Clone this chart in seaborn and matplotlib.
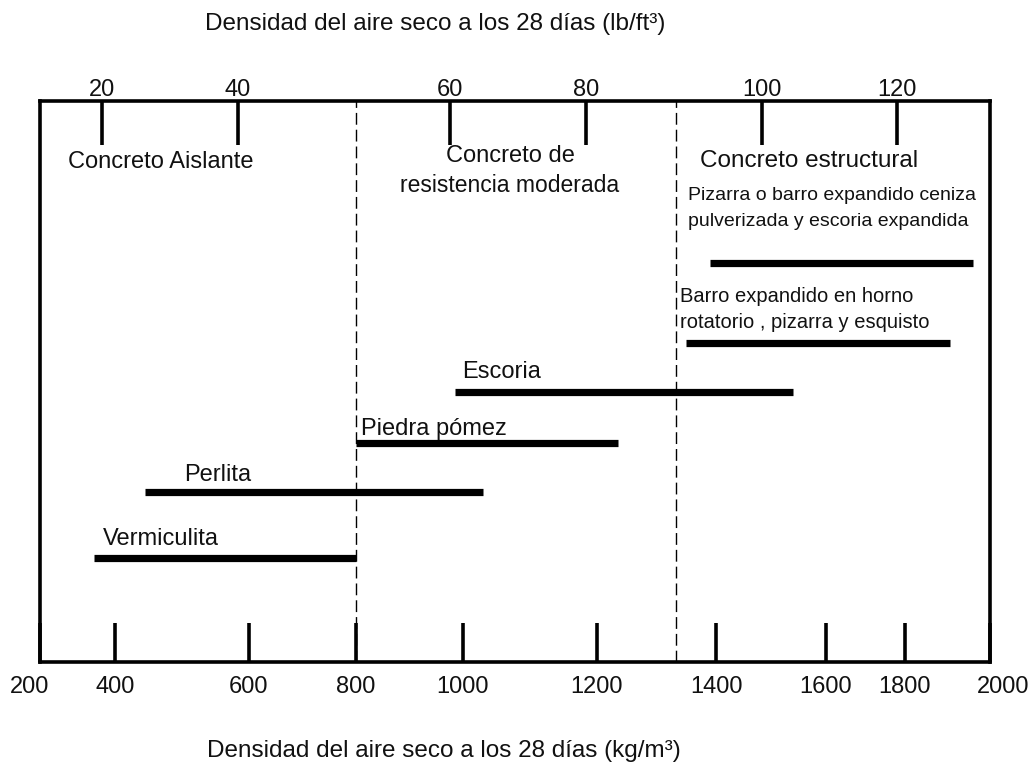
import numpy as np
import pandas as pd
import matplotlib
matplotlib.use("Agg")
import matplotlib.pyplot as plt
import matplotlib.transforms as mtransforms
import seaborn as sns

# ---------------- data ----------------
materials = [
    "Pizarra o barro expandido ceniza pulverizada y escoria expandida",
    "Barro expandido en horno rotatorio, pizarra y esquisto",
    "Escoria",
    "Piedra pómez",
    "Perlita",
    "Vermiculita",
]
density_min_kg = [1390, 1350, 985, 800, 445, 345]
density_max_kg = [1960, 1905, 1540, 1235, 1030, 800]
class_bounds_kg = [800, 1333]
kg_ticks = [200, 400, 600, 800, 1000, 1200, 1400, 1600, 1800, 2000]
lb_ticks = [20, 40, 60, 80, 100, 120]
top_title = "Densidad del aire seco a los 28 días (lb/ft³)"
bottom_title = "Densidad del aire seco a los 28 días (kg/m³)"

# ---------------- layout (pixels of the 1032x767 canvas) ----------------
W, H = 1032, 767
BOX_L, BOX_R, BOX_T, BOX_B = 40, 990, 101, 662
kg_tick_px = [40, 115, 249, 356, 463, 597, 716, 826, 905, 990]
lb_tick_px = [102, 238, 450, 586, 762, 897]
row_px = [263, 343, 392, 443, 492, 558]
row_levels = [(BOX_B - p) / (BOX_B - BOX_T) for p in row_px]

FONT = ["Liberation Sans", "DejaVu Sans"]
TXT = "#111111"

sns.set_theme(style="white")
plt.rcParams["font.family"] = FONT
plt.rcParams["lines.scale_dashes"] = False


def piecewise(x, xp, fp):
    x = np.asarray(x, dtype=float)
    xp = np.asarray(xp, dtype=float)
    fp = np.asarray(fp, dtype=float)
    y = np.interp(x, xp, fp)
    s0 = (fp[1] - fp[0]) / (xp[1] - xp[0])
    s1 = (fp[-1] - fp[-2]) / (xp[-1] - xp[-2])
    y = np.where(x < xp[0], fp[0] + (x - xp[0]) * s0, y)
    y = np.where(x > xp[-1], fp[-1] + (x - xp[-1]) * s1, y)
    return y


def make_scale(vals, px):
    pos = [(p - BOX_L) / (BOX_R - BOX_L) for p in px]
    fwd = lambda x: piecewise(x, vals, pos)
    inv = lambda p: piecewise(p, pos, vals)
    return fwd, inv


kg_fwd, kg_inv = make_scale(kg_ticks, kg_tick_px)
lb_fwd, lb_inv = make_scale(lb_ticks, lb_tick_px)

# ---------------- figure ----------------
fig = plt.figure(figsize=(W / 100, H / 100), dpi=100)
fig.patch.set_facecolor("white")
ax = fig.add_axes([BOX_L / W, 1 - BOX_B / H, (BOX_R - BOX_L) / W, (BOX_B - BOX_T) / H])
ax.set_facecolor("white")

rows = []
for m, a, b, lv in zip(materials, density_min_kg, density_max_kg, row_levels):
    rows.append({"material": m, "density": a, "level": lv})
    rows.append({"material": m, "density": b, "level": lv})
df = pd.DataFrame(rows)

sns.lineplot(data=df, x="density", y="level", units="material", estimator=None,
             sort=False, color="black", linewidth=5.2, legend=False, ax=ax,
             solid_capstyle="butt")

ax.set_xscale("function", functions=(kg_fwd, kg_inv))
ax.set_xlim(kg_ticks[0], kg_ticks[-1])
ax.set_ylim(0, 1)
ax.set_xlabel("")
ax.set_ylabel("")
ax.set_yticks([])

for b in class_bounds_kg:
    ax.axvline(b, color="black", linewidth=1.0, linestyle=(0, (8.5, 3.6)), zorder=1)

for sp in ax.spines.values():
    sp.set_visible(True)
    sp.set_color("black")
    sp.set_linewidth(2.6)

ax.set_xticks(kg_ticks, labels=[str(t) for t in kg_ticks])
ax.tick_params(axis="x", which="major", direction="in", length=28, width=2.6,
               color="black", labelsize=17, labelcolor=TXT, pad=10,
               bottom=True, top=False)
ax.minorticks_off()

# shift the edge labels like in the reference
ticks = ax.xaxis.get_major_ticks()
for tk, dx in ((ticks[0], -10), (ticks[-1], 13)):
    off = mtransforms.ScaledTranslation(dx / 100, 0, fig.dpi_scale_trans)
    tk.label1.set_transform(tk.label1.get_transform() + off)

# top axis in lb/ft3
ax2 = ax.twiny()
ax2.set_xscale("function", functions=(lb_fwd, lb_inv))
ax2.set_xlim(float(lb_inv(0.0)), float(lb_inv(1.0)))
ax2.set_xticks(lb_ticks, labels=[str(t) for t in lb_ticks])
ax2.tick_params(axis="x", which="major", direction="in", length=31.5, width=2.6,
                color="black", labelsize=17, labelcolor=TXT, pad=0,
                top=True, bottom=False)
ax2.minorticks_off()
for sp in ax2.spines.values():
    sp.set_visible(False)
ax2.grid(False)
ax.grid(False)


def ftext(s, px, py, size, ha="left", va="baseline"):
    fig.text(px / W, 1 - py / H, s, fontsize=size, ha=ha, va=va, color=TXT,
             family=FONT)


ftext(top_title, 205, 30, 17.5)
ftext(bottom_title, 207, 757, 17.5)

ftext("Concreto Aislante", 68, 168, 17)
ftext("Concreto de", 510, 162, 17, ha="center")
ftext("resistencia moderada", 510, 192, 16.5, ha="center")
ftext("Concreto estructural", 700, 167, 17.5)
ftext("Pizarra o barro expandido ceniza", 688, 200, 14)
ftext("pulverizada y escoria expandida", 688, 226, 14)
ftext("Barro expandido en horno", 680, 302, 14.5)
ftext("rotatorio , pizarra y esquisto", 680, 328, 14.5)
ftext("Escoria", 462, 378, 17)
ftext("Piedra pómez", 361, 435, 17)
ftext("Perlita", 184, 481, 17)
ftext("Vermiculita", 103, 545, 17)

fig.savefig("out.png", dpi=100, facecolor="white")
